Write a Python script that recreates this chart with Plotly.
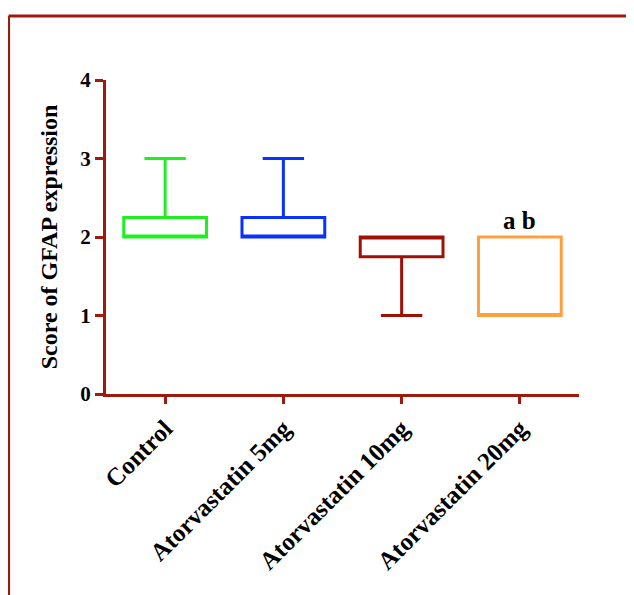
import plotly.graph_objects as go

categories = ["Control", "Atorvastatin 5mg", "Atorvastatin 10mg", "Atorvastatin 20mg"]
q1 = [2.0, 2.0, 1.75, 1.0]
median = [2.0, 2.0, 2.0, 1.0]
q3 = [2.25, 2.25, 2.0, 2.0]
lower = [2.0, 2.0, 1.0, 1.0]
upper = [3.0, 3.0, 2.0, 2.0]
colors = ["#1EF01E", "#0A32FF", "#9E1206", "#FFA040"]
y_ticks = [0, 1, 2, 3, 4]
sig_label = "a b"
sig_index = 3

AX = "#9E1A0C"
FONT = "Liberation Serif"

fig = go.Figure()
for i, c in enumerate(categories):
    fig.add_trace(go.Box(
        x=[i], q1=[q1[i]], median=[median[i]], q3=[q3[i]],
        lowerfence=[lower[i]], upperfence=[upper[i]],
        width=0.7, whiskerwidth=0.5,
        line=dict(color=colors[i], width=3),
        fillcolor="rgba(255,255,255,0)",
        boxpoints=False, showlegend=False, hoverinfo="skip",
    ))

fig.add_annotation(x=sig_index, y=upper[sig_index], text="<b>" + sig_label + "</b>",
                   showarrow=False, yanchor="bottom", yshift=1,
                   font=dict(family=FONT, size=25, color="black"))

# outer frame (top and left)
fig.add_shape(type="line", xref="paper", yref="paper", x0=-0.206, x1=1.2, y0=1.2038, y1=1.2038,
              line=dict(color=AX, width=3))
fig.add_shape(type="line", xref="paper", yref="paper", x0=-0.206, x1=-0.206, y0=1.2038, y1=-0.7,
              line=dict(color=AX, width=3))

fig.update_layout(
    width=634, height=595,
    margin=dict(l=98, r=63, t=72, b=209),
    paper_bgcolor="white", plot_bgcolor="white",
    xaxis=dict(
        tickmode="array", tickvals=list(range(len(categories))), ticktext=categories,
        range=[-0.5, 3.5], tickangle=-45,
        showline=True, linecolor=AX, linewidth=3,
        ticks="outside", ticklen=7, tickwidth=3, tickcolor=AX,
        showgrid=False, zeroline=False,
        tickfont=dict(family=FONT, size=25, color="black", weight="bold"),
    ),
    yaxis=dict(
        range=[0, 4], tickvals=y_ticks,
        showline=True, linecolor=AX, linewidth=3,
        ticks="outside", ticklen=8, tickwidth=3, tickcolor=AX,
        showgrid=False, zeroline=False,
        tickfont=dict(family=FONT, size=21, color="black", weight="bold"),
        title=dict(text="Score of GFAP expression", standoff=16,
                   font=dict(family=FONT, size=24, color="black", weight="bold")),
    ),
)

fig.write_html("out.html")
